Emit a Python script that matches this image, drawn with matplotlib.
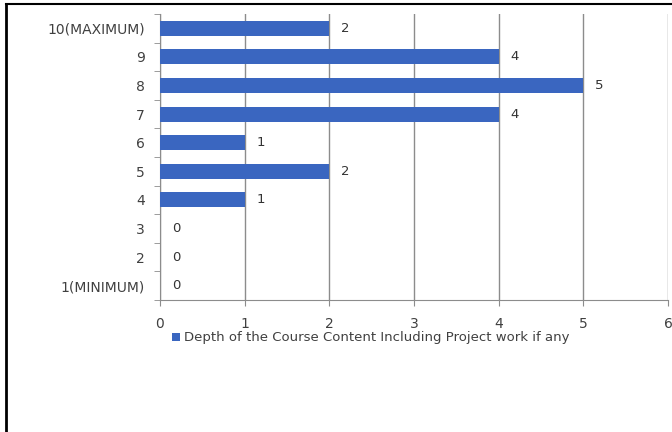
import matplotlib.pyplot as plt
from matplotlib.lines import Line2D

categories = ["1(MINIMUM)", "2", "3", "4", "5", "6", "7", "8", "9", "10(MAXIMUM)"]
counts = [0, 0, 0, 1, 2, 1, 4, 5, 4, 2]
series_name = "Depth of the Course Content Including Project work if any"

plt.rcParams["font.family"] = ["DejaVu Sans"]

fig = plt.figure(figsize=(6.72, 4.32), dpi=100)
ax = fig.add_axes([160 / 672, 1 - 300 / 432, 508 / 672, 286 / 432])

grey = "#8c8c8c"
txt = "#404040"
ax.barh(range(len(categories)), counts, height=0.52, color="#3a66c0",
        label=series_name, zorder=3)
for i, v in enumerate(counts):
    ax.text(v + 0.14, i, str(v), va="center", ha="left", fontsize=9.5, color="#333333")

ax.set_xlim(0, 6)
ax.set_ylim(-0.5, len(categories) - 0.5)
ax.set_xticks(range(7))
ax.set_yticks(range(len(categories)))
ax.set_yticklabels(categories)
ax.set_yticks([i - 0.5 for i in range(len(categories) + 1)], minor=True)
ax.tick_params(axis="y", which="major", length=0, pad=11, labelsize=10, labelcolor=txt)
ax.tick_params(axis="y", which="minor", length=4, color=grey, direction="out")
ax.tick_params(axis="x", length=4, color=grey, labelsize=10, labelcolor=txt, pad=8)
ax.xaxis.grid(True, color=grey, linewidth=1, zorder=0)

for s in ["top", "right"]:
    ax.spines[s].set_visible(False)
ax.spines["left"].set_color(grey)
ax.spines["bottom"].set_color(grey)

ax.legend(loc="center", bbox_to_anchor=(371 / 672, 1 - 338 / 432),
          bbox_transform=fig.transFigure, frameon=False, fontsize=9.5,
          handlelength=0.6, handleheight=0.6, handletextpad=0.3,
          labelcolor=txt)

# black frame along left and top edge of the image
fig.add_artist(Line2D([6 / 672, 6 / 672], [0, 1 - 4 / 432], color="black", linewidth=2,
                      transform=fig.transFigure))
fig.add_artist(Line2D([6 / 672, 1], [1 - 4 / 432, 1 - 4 / 432], color="black", linewidth=1.5,
                      transform=fig.transFigure))

fig.savefig("out.png", dpi=100)
